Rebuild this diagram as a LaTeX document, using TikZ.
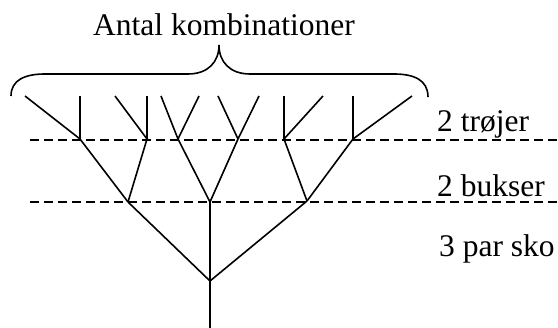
\documentclass[tikz,border=0pt]{standalone}
\usepackage{fontspec}
\setmainfont{Liberation Serif}
\begin{document}
\begin{tikzpicture}[x=1pt,y=-1pt,
  edge/.style={line width=1.6pt},
  level/.style={line width=1.6pt,dash pattern=on 9pt off 5pt},
  lbl/.style={anchor=base west,inner sep=0pt,font=\fontsize{31.5}{36}\selectfont}]
\useasboundingbox (0,0) rectangle (558,328);
% root and levels
\coordinate (bot) at (210,328);
\coordinate (r) at (210,281);
\coordinate (b1) at (128,202);
\coordinate (b2) at (210,202);
\coordinate (b3) at (307,201);
\coordinate (t1) at (80,139);
\coordinate (t2) at (147,139);
\coordinate (t3) at (178,139);
\coordinate (t4) at (238,139);
\coordinate (t5) at (284,139);
\coordinate (t6) at (353,139);
% leaves
\coordinate (l1) at (25,96);  \coordinate (l2) at (80,96);
\coordinate (l3) at (115,96); \coordinate (l4) at (147,96);
\coordinate (l5) at (161,96); \coordinate (l6) at (199,96);
\coordinate (l7) at (218,96); \coordinate (l8) at (259,96);
\coordinate (l9) at (284,96); \coordinate (l10) at (323,96);
\coordinate (l11) at (353,96); \coordinate (l12) at (412,96);
% dashed level lines
\coordinate (d1a) at (30,140); \coordinate (d1b) at (558,140);
\coordinate (d2a) at (30,202); \coordinate (d2b) at (558,202);
\draw[level] (d1a) -- (d1b);
\draw[level] (d2a) -- (d2b);
% tree
\draw[edge] (bot) -- (r);
\draw[edge] (r) -- (b1);
\draw[edge] (r) -- (b2);
\draw[edge] (r) -- (b3);
\draw[edge] (b1) -- (t1); \draw[edge] (b1) -- (t2);
\draw[edge] (b2) -- (t3); \draw[edge] (b2) -- (t4);
\draw[edge] (b3) -- (t5); \draw[edge] (b3) -- (t6);
\draw[edge] (t1) -- (l1); \draw[edge] (t1) -- (l2);
\draw[edge] (t2) -- (l3); \draw[edge] (t2) -- (l4);
\draw[edge] (t3) -- (l5); \draw[edge] (t3) -- (l6);
\draw[edge] (t4) -- (l7); \draw[edge] (t4) -- (l8);
\draw[edge] (t5) -- (l9); \draw[edge] (t5) -- (l10);
\draw[edge] (t6) -- (l11); \draw[edge] (t6) -- (l12);
% brace
\coordinate (bl) at (11,96);
\coordinate (bt) at (219,45);
\coordinate (br) at (428,97);
\draw[line width=1.6pt] (bl) .. controls (11,80) and (25,74) .. (45,74)
  -- (188,74) .. controls (208,74) and (219,62) .. (bt)
  .. controls (219,62) and (230,74) .. (250,74)
  -- (394,74) .. controls (414,74) and (428,80) .. (br);
% labels
\node[lbl] (title) at (93,36) {Antal kombinationer};
\node[lbl] (tr) at (437,132) {2 trøjer};
\node[lbl] (bu) at (437,197) {2 bukser};
\node[lbl] (sk) at (439,257) {3 par sko};
\end{tikzpicture}
\end{document}
